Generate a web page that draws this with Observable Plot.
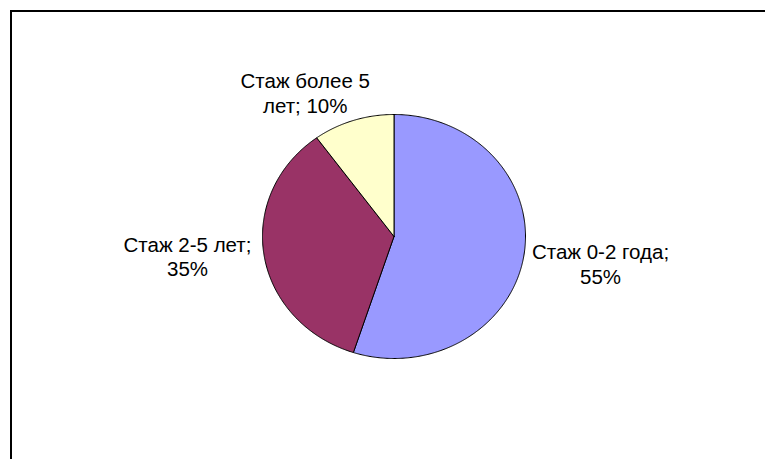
<!DOCTYPE html>
<html><head><meta charset="utf-8">
<script src="https://cdn.jsdelivr.net/npm/d3@7"></script>
<script src="https://cdn.jsdelivr.net/npm/@observablehq/plot@0.6"></script>
<style>
html,body{margin:0;background:#fff;overflow:hidden;}
#chart{position:relative;width:765px;height:459px;overflow:hidden;}
#chart svg{display:block;}
#chart::after{content:"";position:absolute;left:10px;top:10px;right:0;bottom:0;border-left:2px solid #000;border-top:2px solid #000;pointer-events:none;}
</style>
</head><body><div id="chart"></div>
<script>
const categories = ["Стаж 0-2 года", "Стаж 2-5 лет", "Стаж более 5 лет"];
const shares = [55, 35, 10];
const colors = ["#9999FF", "#993366", "#FFFFCC"];

// pie geometry from the data (unit ellipse, clockwise from 12 o'clock)
const arcs = d3.pie().sort(null).value(d => d)(shares);
const slicePts = [];
arcs.forEach((p, i) => {
  const n = Math.max(2, Math.ceil((p.endAngle - p.startAngle) / (Math.PI / 360)));
  slicePts.push({cat: categories[i], u: 0, v: 0});
  for (let k = 0; k <= n; k++) {
    const a = p.startAngle + (p.endAngle - p.startAngle) * k / n;
    slicePts.push({cat: categories[i], u: Math.sin(a), v: Math.cos(a)});
  }
  slicePts.push({cat: categories[i], u: 0, v: 0});
});

// label placement (layout): outside the ellipse at mid-angle
const RX = 131.5, RY = 122;
const labels = arcs.map((p, i) => {
  const m = (p.startAngle + p.endAngle) / 2;
  const s = Math.sin(m), c = Math.cos(m);
  const dxPix = 77 * Math.sign(s) * Math.pow(Math.abs(s), 0.4);
  const dyPix = -c * 28 + 4 * s;
  return {
    u: s + dxPix / RX,
    v: c - dyPix / RY,
    text: `${categories[i]}; ${shares[i]}%`
  };
});

const chart = Plot.plot({
  width: 765,
  height: 459,
  margin: 0,
  style: {background: "#fff"},
  x: {domain: [-1, 1], range: [262, 525], axis: null},
  y: {domain: [-1, 1], range: [358, 114], axis: null},
  color: {domain: categories, range: colors},
  marks: [
    Plot.line(slicePts, {x: "u", y: "v", z: "cat", fill: "cat", stroke: "black", strokeWidth: 1, strokeLinejoin: "round", curve: "linear"}),
    Plot.text(labels, {x: "u", y: "v", text: "text", lineWidth: 7.5, lineHeight: 1.2, fontSize: 20.5,
      fontFamily: "'Liberation Sans', Arial, sans-serif", fill: "black", textAnchor: "middle"})
  ]
});
document.getElementById("chart").appendChild(chart);
</script>
</body></html>
